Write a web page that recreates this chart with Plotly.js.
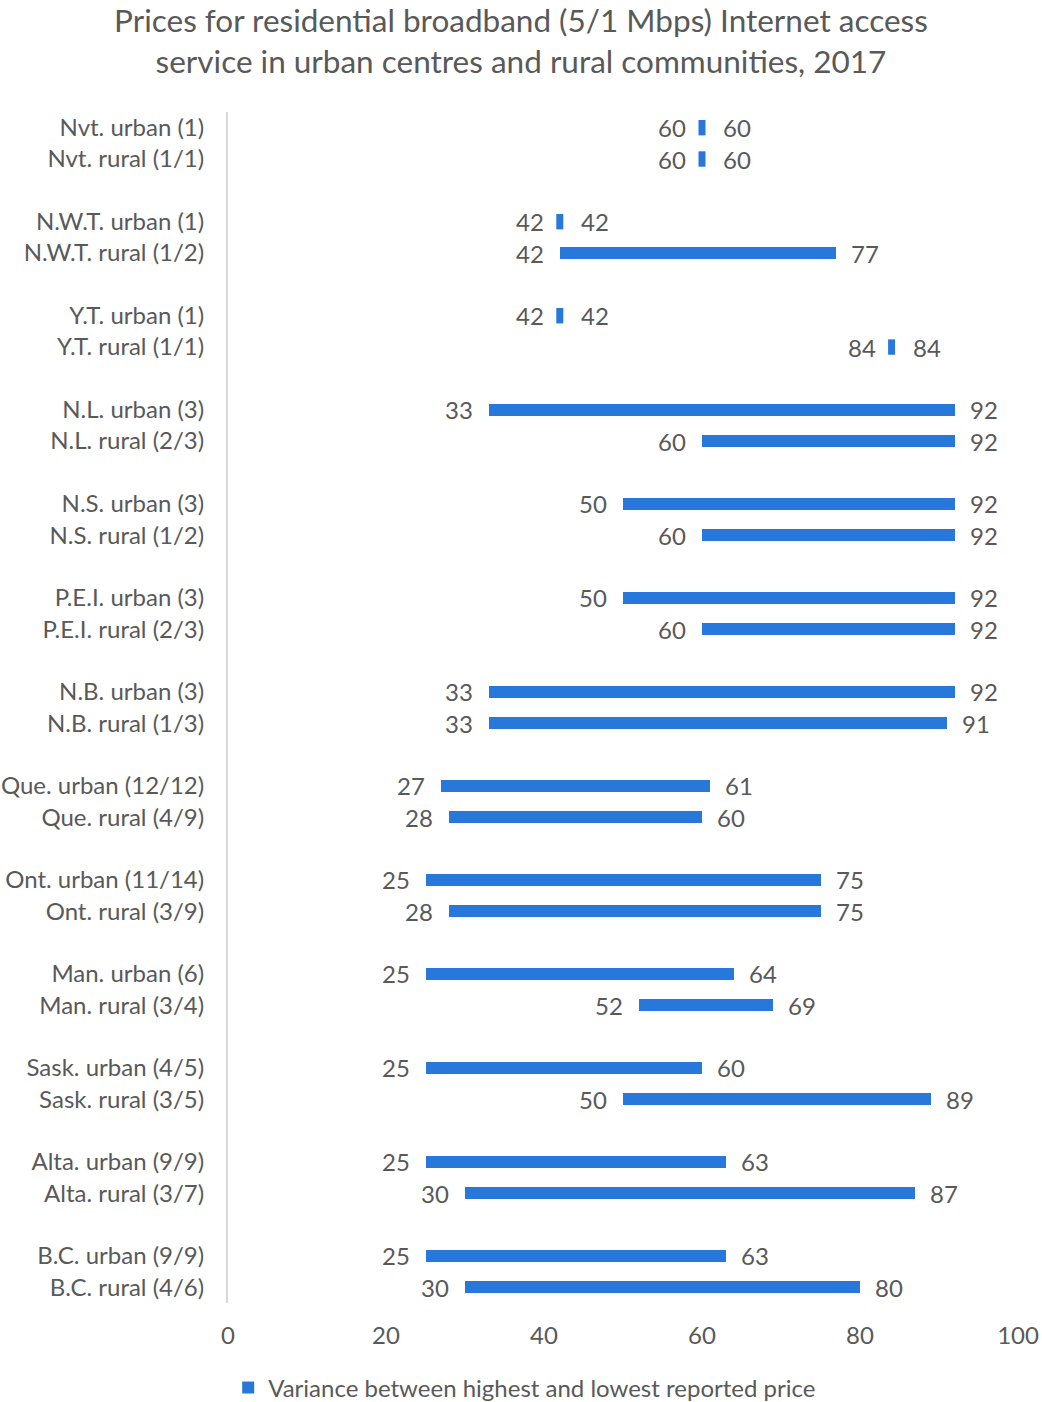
<!DOCTYPE html>
<html>
<head>
<meta charset="utf-8">
<script src="https://cdn.plot.ly/plotly-3.0.1.min.js"></script>
<style>
  html, body { margin: 0; padding: 0; background: #ffffff; }
  #chart { width: 1042px; height: 1402px; }
</style>
</head>
<body>
<div id="chart"></div>
<script>
// Lowest and highest reported monthly price (5/1 Mbps), by province/territory
const provinces = ["Nvt.", "N.W.T.", "Y.T.", "N.L.", "N.S.", "P.E.I.", "N.B.",
                   "Que.", "Ont.", "Man.", "Sask.", "Alta.", "B.C."];
const urbanCounts = ["(1)", "(1)", "(1)", "(3)", "(3)", "(3)", "(3)",
                     "(12/12)", "(11/14)", "(6)", "(4/5)", "(9/9)", "(9/9)"];
const ruralCounts = ["(1/1)", "(1/2)", "(1/1)", "(2/3)", "(1/2)", "(2/3)", "(1/3)",
                     "(4/9)", "(3/9)", "(3/4)", "(3/5)", "(3/7)", "(4/6)"];
const urbanLow  = [60, 42, 42, 33, 50, 50, 33, 27, 25, 25, 25, 25, 25];
const urbanHigh = [60, 42, 42, 92, 92, 92, 92, 61, 75, 64, 60, 63, 63];
const ruralLow  = [60, 42, 84, 60, 60, 60, 33, 28, 28, 52, 50, 30, 30];
const ruralHigh = [60, 77, 84, 92, 92, 92, 91, 60, 75, 69, 89, 87, 80];
const xTicks = [0, 20, 40, 60, 80, 100];

const BLUE = "#2878DC";
const GREY = "#595959";
const FONT = "Lato, 'Open Sans', sans-serif";
const FS = 24;

// Category order: urban row, rural row, then an empty spacer row
const cats = [], low = [], high = [];
const order = [];
provinces.forEach((p, i) => {
  const u = p + " urban " + urbanCounts[i];
  const r = p + " rural " + ruralCounts[i];
  order.push(u, r);
  cats.push(u, r);
  low.push(urbanLow[i], ruralLow[i]);
  high.push(urbanHigh[i], ruralHigh[i]);
  if (i < provinces.length - 1) order.push(" ".repeat(i + 1));
});

// Floating bars from the lowest to the highest price
const bars = {
  type: "bar",
  orientation: "h",
  y: cats,
  base: low,
  x: high.map((h, i) => h - low[i]),
  width: 0.38,
  marker: { color: BLUE },
  name: "Variance between highest and lowest reported price",
  hoverinfo: "skip",
  showlegend: true
};

// Rows where both prices are equal get a short tick so they stay visible
const eqY = [], eqX = [];
cats.forEach((c, i) => { if (low[i] === high[i]) { eqY.push(c); eqX.push(low[i]); } });
const ticksEq = {
  type: "scatter",
  mode: "markers",
  y: eqY,
  x: eqX,
  marker: { symbol: "line-ns", size: 11, color: BLUE, line: { color: BLUE, width: 7 } },
  hoverinfo: "skip",
  showlegend: false
};

// Value labels at each end of the bar
const annotations = [];
cats.forEach((c, i) => {
  const eq = low[i] === high[i];
  annotations.push({
    x: low[i], y: c, xref: "x", yref: "y", text: String(low[i]),
    showarrow: false, xanchor: "right", xshift: -14,
    font: { family: FONT, size: FS, color: GREY }
  });
  annotations.push({
    x: high[i], y: c, xref: "x", yref: "y", text: String(high[i]),
    showarrow: false, xanchor: "left", xshift: eq ? 19 : 13,
    font: { family: FONT, size: FS, color: GREY }
  });
});

const nRows = order.length;

const layout = {
  width: 1042,
  height: 1402,
  paper_bgcolor: "#ffffff",
  plot_bgcolor: "#ffffff",
  margin: { l: 228, r: 24, t: 112, b: 99 },
  font: { family: FONT, size: FS, color: GREY },
  title: {
    text: "Prices for residential broadband (5/1 Mbps) Internet access<br>service in urban centres and rural communities, 2017",
    font: { family: FONT, size: 31.5, color: GREY },
    x: 0.5, xanchor: "center",
    yref: "container", y: 0.977, yanchor: "top"
  },
  xaxis: {
    range: [0, 100],
    tickvals: xTicks,
    ticktext: xTicks.map(String),
    showgrid: false,
    zeroline: false,
    showline: false,
    ticks: "",
    ticklabelstandoff: 16,
    automargin: false,
    tickfont: { family: FONT, size: FS, color: GREY },
    fixedrange: true
  },
  yaxis: {
    type: "category",
    categoryorder: "array",
    categoryarray: order,
    range: [nRows - 0.5, -0.5],
    showgrid: false,
    zeroline: false,
    showline: true,
    linecolor: "#d9d9d9",
    linewidth: 2,
    ticks: "",
    ticklabelstandoff: 17,
    automargin: false,
    tickfont: { family: FONT, size: FS, color: GREY },
    fixedrange: true
  },
  bargap: 0,
  showlegend: true,
  legend: {
    orientation: "h",
    xref: "container", x: 0.219, xanchor: "left",
    yref: "container", y: 0.01, yanchor: "middle",
    font: { family: FONT, size: FS, color: GREY },
    itemwidth: 30
  },
  annotations: annotations
};

Plotly.newPlot("chart", [bars, ticksEq], layout, { displayModeBar: false, staticPlot: true });
</script>
</body>
</html>
